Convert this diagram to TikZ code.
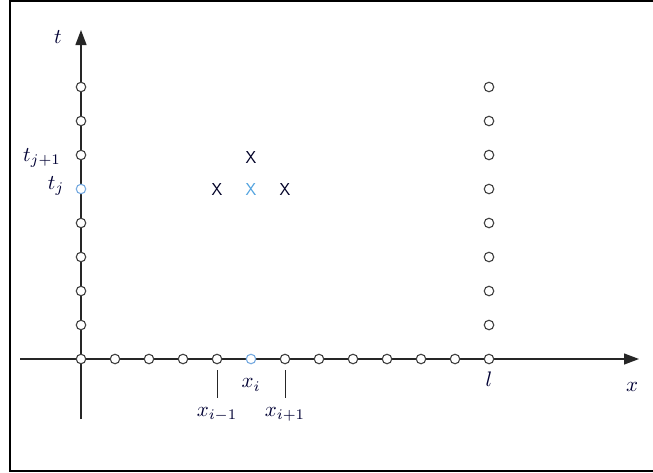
\documentclass[tikz,border=0pt]{standalone}
\usepackage{graphicx}
\usetikzlibrary{arrows.meta}
\newcommand{\biglbl}[1]{\scalebox{2.1}{$#1$}}
\begin{document}
\begin{tikzpicture}[x=1pt,y=-1pt,
  gpt/.style={circle,draw=black!75,fill=white,line width=1.1pt,minimum size=9.5pt,inner sep=0pt},
  bpt/.style={gpt,draw=cyan!60!blue!55},
  axis/.style={line width=1.3pt,black!85},
  lbl/.style={text=black!80!blue,inner sep=0pt},
  cross/.style={font=\sffamily\LARGE,text=black!85!blue},
  bcross/.style={cross,text=cyan!70!blue!70}]
\useasboundingbox (0,0) rectangle (653,472);
\draw[line width=2.5pt] (653,1) -- (10,1) -- (10,471) -- (653,471);
% axes
\coordinate (xs) at (20,359);
\coordinate (xe) at (639,359);
\coordinate (ts) at (81,419);
\coordinate (te) at (81,30);
\draw[axis,-{Triangle[length=15pt,width=11pt]}] (xs) -- (xe);
\draw[axis,-{Triangle[length=15pt,width=11pt]}] (ts) -- (te);
\node[lbl] (tl) at (58,37) {\biglbl{t}};
\node[lbl] (xl) at (632,387) {\biglbl{x}};
% x-axis points
\foreach \i in {0,...,12}{
  \pgfmathsetmacro{\px}{81+34*\i}
  \ifnum\i=5
    \node[bpt] (p\i) at (\px,359) {};
  \else
    \node[gpt] (p\i) at (\px,359) {};
  \fi
}
% t-axis points
\foreach \j in {1,...,8}{
  \pgfmathsetmacro{\py}{359-34*\j}
  \ifnum\j=5
    \node[bpt] (q\j) at (81,\py) {};
  \else
    \node[gpt] (q\j) at (81,\py) {};
  \fi
}
% right column
\foreach \j in {1,...,8}{
  \pgfmathsetmacro{\py}{359-34*\j}
  \node[gpt] (r\j) at (489,\py) {};
}
% labels
\node[lbl] (tj1) at (42,158) {\biglbl{t_{j+1}}};
\node[lbl] (tj) at (56,186) {\biglbl{t_j}};
\node[lbl] (xi) at (251,385) {\biglbl{x_i}};
\node[lbl] (ll) at (489,379) {\biglbl{l}};
\coordinate (a1) at (217,370);
\coordinate (a2) at (217,398);
\coordinate (b1) at (285,370);
\coordinate (b2) at (285,398);
\draw[line width=1pt,black!85] (a1) -- (a2);
\draw[line width=1pt,black!85] (b1) -- (b2);
\node[lbl] (xim) at (217,414) {\biglbl{x_{i-1}}};
\node[lbl] (xip) at (285,414) {\biglbl{x_{i+1}}};
% crosses
\node[cross] (c0) at (251,157) {X};
\node[cross] (c1) at (217,189) {X};
\node[bcross] (c2) at (251,189) {X};
\node[cross] (c3) at (285,189) {X};
\end{tikzpicture}
\end{document}
